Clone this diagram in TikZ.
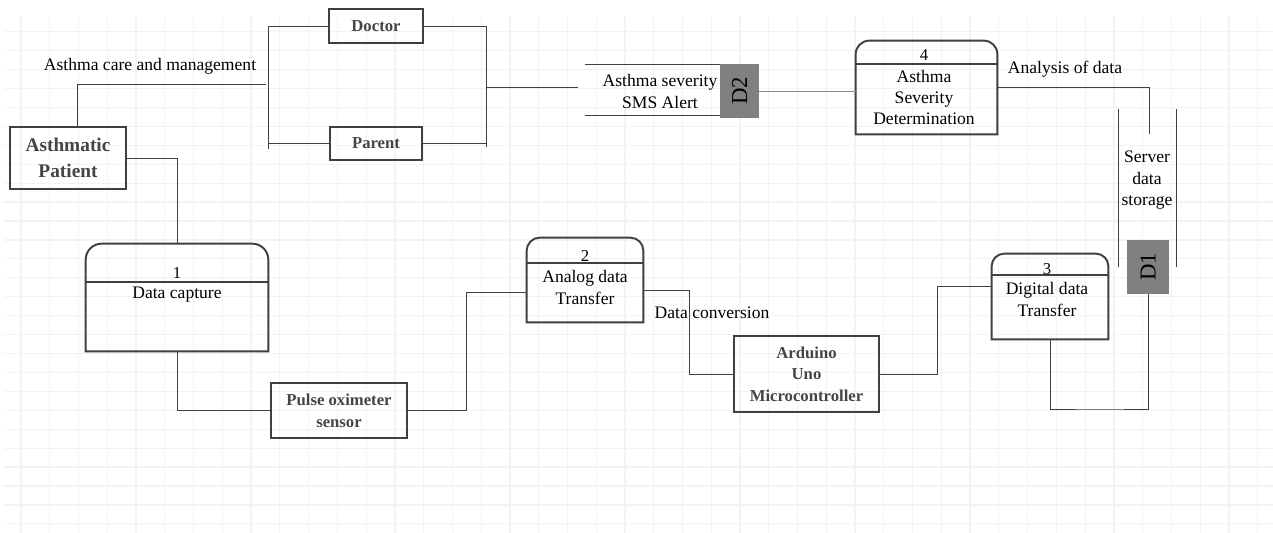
\documentclass[tikz,border=0pt]{standalone}
\usepackage{fontspec}
\setmainfont{Liberation Serif}
\usepackage{graphicx}
\definecolor{linegray}{HTML}{404040}
\definecolor{lightline}{HTML}{8A8A8A}
\definecolor{storegray}{HTML}{808080}
\definecolor{labelgray}{HTML}{454545}
\definecolor{gridgray}{HTML}{F3F3F3}

\begin{document}
\begin{tikzpicture}[x=0.02cm, y=-0.02cm,
        gridline/.style={draw=gridgray, line width=0.7pt},
        entity/.style={draw=linegray, line width=1.1pt, text=labelgray, align=center, inner sep=0pt,
            font=\fontsize{9.5}{12.2}\selectfont\bfseries},
        process/.style={inner sep=0pt},
        procline/.style={draw=linegray, line width=1.1pt},
        plabel/.style={font=\fontsize{10}{12}\selectfont, align=center, inner sep=0pt},
        pnum/.style={font=\fontsize{9.5}{10}\selectfont, inner sep=0pt},
        storebox/.style={fill=storegray, inner sep=0pt, font=\fontsize{13}{13}\selectfont},
        conn/.style={draw=linegray, line width=0.55pt}]
    \useasboundingbox [fill=white] (0,0) rectangle (1273,533);
    % background grid
    \foreach \i in {0,...,43}
        \draw [gridline] (21+\i*28.76, 16) -- (21+\i*28.76, 533);
    \foreach \j in {0,...,26}
        \draw [gridline] (4, 31.7+\j*18.93) -- (1273, 31.7+\j*18.93);

    % external entities
    \node [entity, minimum width=2.32cm, minimum height=1.24cm, font=\fontsize{11}{14.7}\selectfont\bfseries] (pat) at (68,158) {Asthmatic\\Patient};
    \node [entity, minimum width=1.88cm, minimum height=0.68cm] (doc) at (376,26) {Doctor};
    \node [entity, minimum width=1.84cm, minimum height=0.66cm] (par) at (376,143.5) {Parent};
    \node [entity, minimum width=2.72cm, minimum height=1.1cm, font=\fontsize{9.5}{12.5}\selectfont\bfseries] (pulse) at (339,410.5) {Pulse oximeter\\sensor};
    \node [entity, minimum width=2.9cm, minimum height=1.52cm] (ard) at (806.5,374) {Arduino\\Uno\\Microcontroller};

    % processes
    \node [process, minimum width=3.64cm, minimum height=2.14cm] (p1) at (177,297.5) {};
    \node [process, minimum width=2.32cm, minimum height=1.68cm] (p2) at (585,280) {};
    \node [process, minimum width=2.32cm, minimum height=1.7cm] (p3) at (1050,296.5) {};
    \node [process, minimum width=2.82cm, minimum height=1.86cm] (p4) at (926.5,87.5) {};
    \foreach \p/\r in {p1/0.32cm, p2/0.26cm, p3/0.25cm, p4/0.27cm}
        \draw [procline] (\p.south west) -- ([yshift=-\r]\p.north west)
            arc [start angle=180, end angle=90, radius=\r]
            -- ([xshift=-\r]\p.north east)
            arc [start angle=90, end angle=0, radius=\r]
            -- (\p.south east) -- cycle;
    \coordinate (s1) at (0,282);
    \coordinate (s2) at (0,263);
    \coordinate (s3) at (0,275);
    \coordinate (s4) at (0,64);
    \foreach \k in {1,...,4}
        \draw [conn, line width=0.8pt] (p\k.west |- s\k) -- (p\k.east |- s\k);
    \node [pnum] (n1) at (177,273) {1};
    \node [pnum] (n2) at (585,256) {2};
    \node [pnum] (n3) at (1047,269) {3};
    \node [pnum] (n4) at (924,55) {4};
    \node [plabel] (t1) at (177,295) {Data capture};
    \node [plabel] (t2) at (585,287.5) {Analog data\\Transfer};
    \node [plabel] (t3) at (1047,299.5) {Digital data\\Transfer};
    \node [plabel] (t4) at (924,97.5) {Asthma\\Severity\\Determination};

    % data stores
    \node [storebox, minimum width=0.78cm, minimum height=1.08cm] (d2) at (739.5,91) {\rotatebox{90}{D2}};
    \node [storebox, minimum width=0.84cm, minimum height=1.08cm] (d1) at (1148,267) {\rotatebox{90}{D1}};
    \node [plabel] (alerttxt) at (660,91.5) {Asthma severity\\SMS Alert};
    \node [plabel, font=\fontsize{10}{12.2}\selectfont] (servertxt) at (1147,180.5) {Server\\data\\storage};
    \coordinate (d2a) at (585,64);
    \coordinate (d2b) at (585,115);
    \draw [conn] (d2a) -- (d2a -| d2.west);
    \draw [conn] (d2b) -- (d2b -| d2.west);
    \coordinate (d1a) at (1118,109);
    \coordinate (d1b) at (1176,109);
    \draw [conn] (d1a) -- (d1a |- d1.center);
    \draw [conn] (d1b) -- (d1b |- d1.center);

    % flow labels
    \node [plabel] (lcare) at (150,66) {Asthma care and management};
    \node [plabel] (lanal) at (1065,69) {Analysis of data};
    \node [plabel] (lconv) at (712,313) {Data conversion};

    % flows
    \coordinate (care) at (266,84);
    \draw [conn] ([xshift=0.18cm]pat.north) |- (care);
    \coordinate (bl) at (268,149);
    \draw [conn] (doc.west) -| (bl);
    \draw [conn] (par.west) -- (par.west -| bl);
    \coordinate (br) at (486,147);
    \draw [conn] (doc.east) -| (br);
    \draw [conn] (par.east) -- (par.east -| br);
    \coordinate (alert) at (578,87);
    \draw [conn] (br |- alert) -- (alert);
    \draw [conn, draw=lightline] (d2.east) -- (d2.east -| p4.west);
    \coordinate (anal) at (1149,134);
    \draw [conn] (p4.east) -| (anal);
    \coordinate (low3) at (1100,409);
    \draw [conn] (p3.south) |- (low3) -| (d1.south);
    \coordinate (k3) at (937,286);
    \draw [conn] (ard.east) -| (k3) -- (k3 -| p3.west);
    \coordinate (k2) at (689,290);
    \draw [conn] (k2 -| p2.east) -- (k2) |- (ard.west);
    \coordinate (k1) at (466,292);
    \draw [conn] (pulse.east) -| (k1) -- (k1 -| p2.west);
    \draw [conn] (p1.south) |- (pulse.west);
    \draw [conn] (pat.east) -| (p1.north);
\end{tikzpicture}
\end{document}
